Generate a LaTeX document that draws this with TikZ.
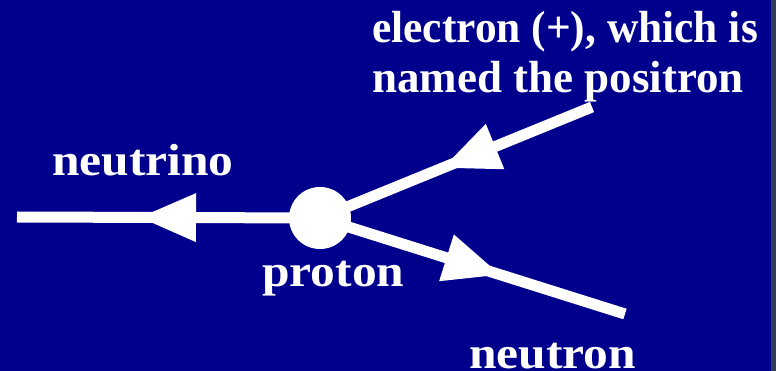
\documentclass[tikz,border=0pt]{standalone}
\usepackage{fontspec}
\setmainfont{Liberation Serif}
\usetikzlibrary{decorations.markings}
\definecolor{navybg}{RGB}{0,0,140}
\definecolor{edgegray}{RGB}{48,60,84}
\tikzset{
  particle/.style={draw=white, line width=11pt, line cap=butt},
  midarrow/.style={postaction={decorate,decoration={markings,
    mark=at position #1 with {\fill[white] (0pt,0pt) -- (-56pt,24.5pt) -- (-56pt,-24.5pt) -- cycle;}}}},
  lbl/.style={text=white, font=\bfseries\fontsize{45}{50}\selectfont, anchor=base west, inner sep=0pt},
  widelbl/.style={lbl, font=\bfseries\fontsize{45}{50}\selectfont\addfontfeature{FakeStretch=1.1}},
  narrowlbl/.style={lbl, font=\bfseries\fontsize{45}{50}\selectfont\addfontfeature{FakeStretch=0.965}}
}
\begin{document}
\begin{tikzpicture}[x=1pt,y=-1pt]
  \fill[navybg] (0,0) rectangle (776,371);
  \fill[edgegray] (771,0) rectangle (776,371);
  \useasboundingbox (0,0) rectangle (776,371);
  \coordinate (vc) at (320,218);
  \coordinate (nl) at (17,217);
  \coordinate (ne) at (592,107);
  \coordinate (nn) at (625,314);
  \draw[particle, midarrow=0.594] (vc) -- (nl);
  \draw[particle, midarrow=0.547] (ne) -- (vc);
  \draw[particle, midarrow=0.59] (vc) -- (nn);
  \node[circle, fill=white, minimum size=62pt, inner sep=0pt] (v) at (vc) {};
  \node[widelbl] (tneutrino) at (52,176) {neutrino};
  \node[widelbl] (tproton) at (262,287) {proton};
  \node[widelbl] (tneutron) at (469,368) {neutron};
  \node[narrowlbl] (telectron1) at (372,43) {electron (+), which is};
  \node[lbl] (telectron2) at (372,93) {named the positron};
\end{tikzpicture}
\end{document}
